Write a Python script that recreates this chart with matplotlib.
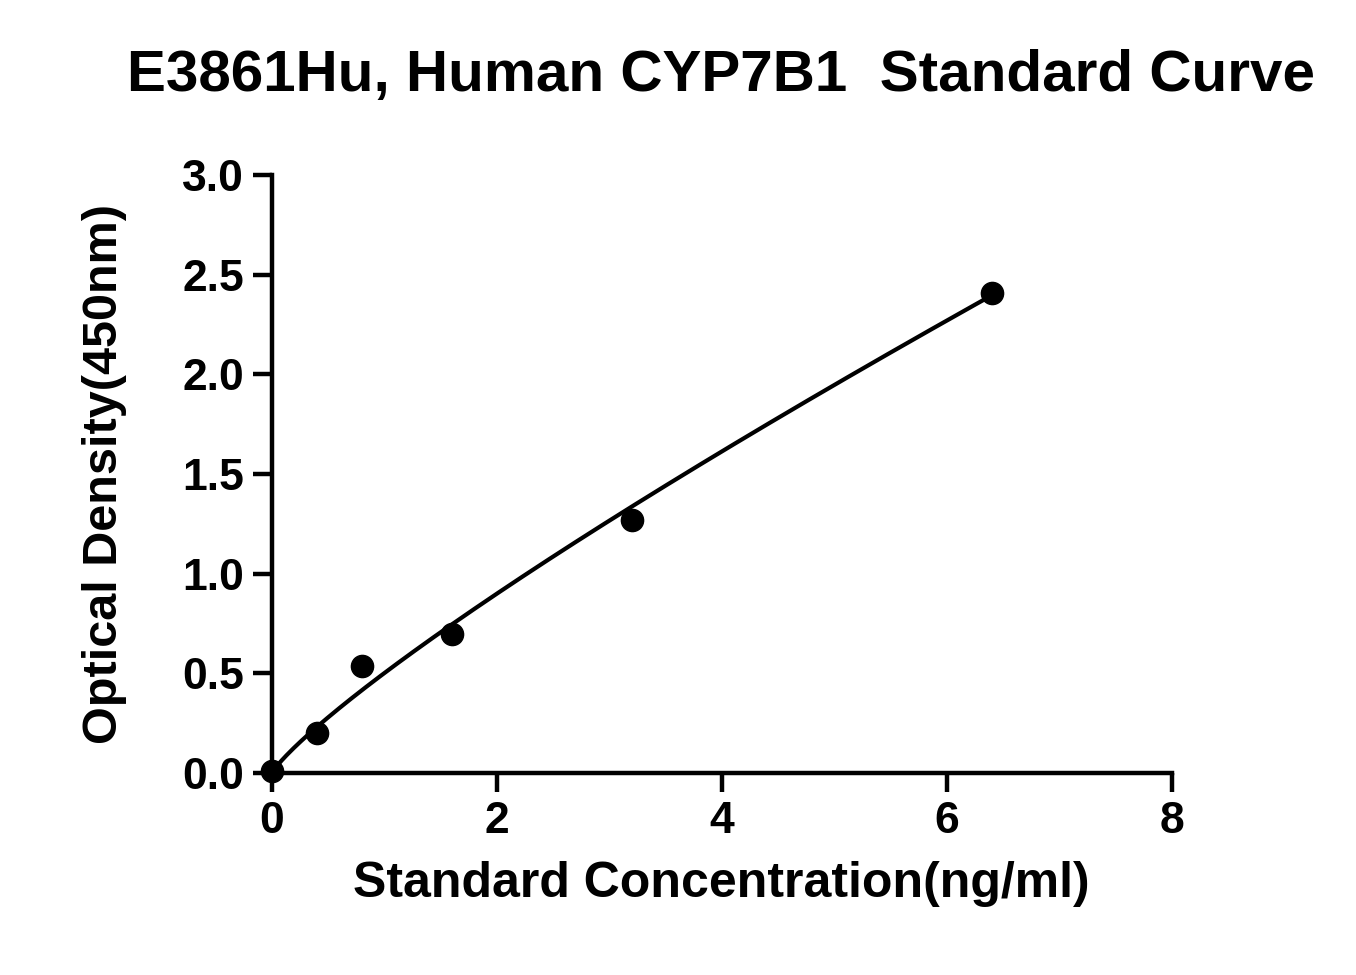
import numpy as np
import matplotlib
matplotlib.use("Agg")
import matplotlib.pyplot as plt

conc = np.array([0, 0.4, 0.8, 1.6, 3.2, 6.4])
od = np.array([0.01, 0.20, 0.54, 0.70, 1.27, 2.41])

# power-law fit through the nonzero standards
b, loga = np.polyfit(np.log(conc[1:]), np.log(od[1:]), 1)
xf = np.linspace(0, conc.max(), 300)
yf = np.exp(loga) * xf ** b

plt.rcParams['font.family'] = ['Liberation Sans', 'DejaVu Sans']
plt.rcParams['font.weight'] = 'bold'

fig = plt.figure(figsize=(13.56, 9.75), dpi=100)
ax = fig.add_axes([0.2006, 0.207, 0.6634, 0.6135])
ax.plot(xf, yf, color='black', lw=3)
ax.plot(conc, od, 'o', color='black', ms=16, clip_on=False)

ax.set_xlim(0, 8)
ax.set_ylim(0, 3)
ax.set_xticks([0, 2, 4, 6, 8])
ax.set_yticks([0, 0.5, 1, 1.5, 2, 2.5, 3])
ax.set_yticklabels(['0.0', '0.5', '1.0', '1.5', '2.0', '2.5', '3.0'])
for s in ['top', 'right']:
    ax.spines[s].set_visible(False)
for s in ['left', 'bottom']:
    ax.spines[s].set_linewidth(3.2)
ax.tick_params(width=3.2, length=14, labelsize=32, pad=6)
for lab in ax.get_xticklabels() + ax.get_yticklabels():
    lab.set_fontweight('bold')

ax.set_xlabel('Standard Concentration(ng/ml)', fontsize=36, fontweight='bold', labelpad=14)
ax.set_ylabel('Optical Density(450nm)', fontsize=35, fontweight='bold', labelpad=40)
fig.text(0.532, 0.922, 'E3861Hu, Human CYP7B1  Standard Curve', ha='center', va='center',
         fontsize=42, fontweight='bold')

fig.savefig('out.png', dpi=100)
